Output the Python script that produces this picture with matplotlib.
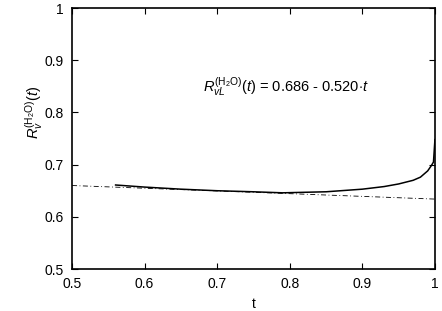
import matplotlib
matplotlib.use('Agg')
import matplotlib.pyplot as plt

plt.rcParams['font.family'] = 'Liberation Sans'
plt.rcParams['mathtext.fontset'] = 'custom'
plt.rcParams['mathtext.rm'] = 'Liberation Sans'
plt.rcParams['mathtext.it'] = 'Liberation Sans:italic'

# ratio curve
t_vals = [0.56, 0.60, 0.65, 0.70, 0.75, 0.79, 0.85, 0.90, 0.93, 0.95,
          0.97, 0.98, 0.99, 0.995, 0.998, 1.0]
r_vals = [0.661, 0.657, 0.653, 0.650, 0.648, 0.646, 0.648, 0.653, 0.658, 0.663,
          0.670, 0.676, 0.688, 0.698, 0.705, 0.748]

# linear fit (dash-dot)
fit_t = [0.5, 1.0]
fit_r = [0.660, 0.634]

xticks = [0.5, 0.6, 0.7, 0.8, 0.9, 1.0]
xlabels = ['0.5', '0.6', '0.7', '0.8', '0.9', '1']
yticks = [0.5, 0.6, 0.7, 0.8, 0.9, 1.0]
ylabels = ['0.5', '0.6', '0.7', '0.8', '0.9', '1']

fig = plt.figure(figsize=(4.42, 3.11), dpi=100)
ax = fig.add_axes([0.163, 0.135, 0.821, 0.839])

ax.plot(fit_t, fit_r, color='black', lw=0.6, dashes=[6, 3, 1, 3])
ax.plot(t_vals, r_vals, color='black', lw=1.1)

ax.set_xlim(0.5, 1.0)
ax.set_ylim(0.5, 1.0)
ax.set_xticks(xticks)
ax.set_xticklabels(xlabels)
ax.set_yticks(yticks)
ax.set_yticklabels(ylabels)
ax.tick_params(direction='in', top=True, right=True, length=4, labelsize=10, pad=6)
for s in ax.spines.values():
    s.set_linewidth(1.2)

ax.set_xlabel('t', fontsize=10)
ax.set_ylabel(r'$R_{v}^{(\mathrm{H_2O})}(t)$', fontsize=10.5)
ax.yaxis.set_label_coords(-0.075, 0.6)

ax.text(0.681, 0.838, r'$R_{vL}^{(\mathrm{H_2O})}(t)$ = 0.686 - 0.520$\cdot t$', fontsize=10.5)

fig.savefig('out.png', dpi=100)
